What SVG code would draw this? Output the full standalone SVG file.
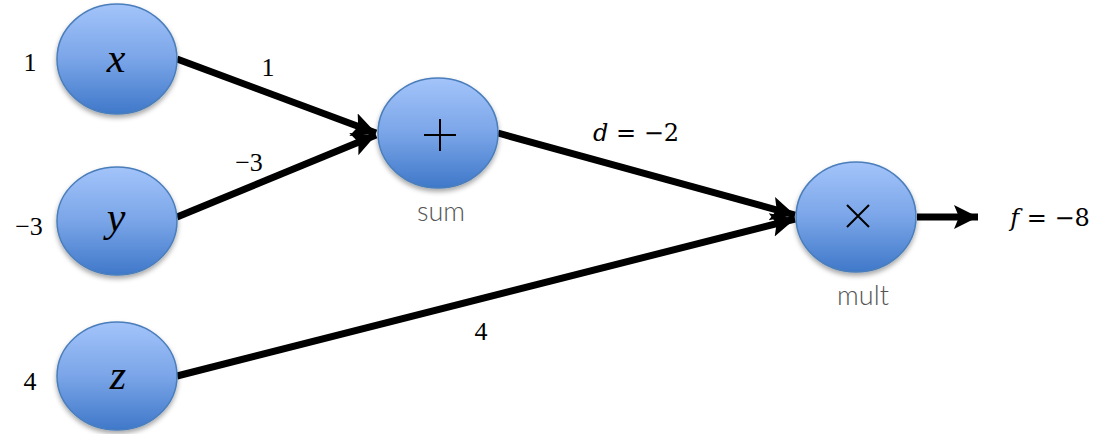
<svg xmlns="http://www.w3.org/2000/svg" width="1102" height="434" viewBox="0 0 1102 434">
<style>
.node{fill:url(#g);stroke:#4a7ebb;stroke-width:1.5;filter:url(#sh)}
.sym{font-family:"Liberation Serif",serif;font-style:italic;font-size:42px;text-anchor:middle;fill:#000}
.lab{font-family:"Liberation Serif",serif;font-size:26px;text-anchor:middle;fill:#000}
.eq{font-family:"DejaVu Serif","Liberation Serif",serif;font-size:24px;text-anchor:middle;fill:#000}
.cap{font-family:"Lato","Open Sans",sans-serif;font-weight:300;font-size:27px;text-anchor:middle;fill:#555}
.edge{stroke:#000;stroke-width:7;fill:none}
.op{stroke:#000;stroke-width:2;fill:none}
</style>
<defs>
<linearGradient id="g" x1="0" y1="0" x2="0" y2="1">
<stop offset="0" stop-color="#a3c4fa"/>
<stop offset="0.5" stop-color="#7aa5e8"/>
<stop offset="1" stop-color="#3f78c9"/>
</linearGradient>
<filter id="sh" x="-20%" y="-20%" width="140%" height="150%">
<feDropShadow dx="0" dy="3" stdDeviation="2.5" flood-color="#000" flood-opacity="0.35"/>
</filter>
<marker id="ah" markerUnits="userSpaceOnUse" markerWidth="26" markerHeight="26" refX="24" refY="12" orient="auto">
<path d="M0,0 L24,12 L0,24 L5,12 Z" fill="#000"/>
</marker>
</defs>
<g id="connectors">
<line class="edge" x1="177" y1="59" x2="376" y2="133" marker-end="url(#ah)"/>
<line class="edge" x1="177" y1="217" x2="376" y2="135" marker-end="url(#ah)"/>
<line class="edge" x1="498" y1="133" x2="795" y2="215" marker-end="url(#ah)"/>
<line class="edge" x1="177" y1="376" x2="795" y2="219" marker-end="url(#ah)"/>
<line class="edge" x1="917" y1="217" x2="978" y2="217" marker-end="url(#ah)"/>
<text class="lab" x="268" y="76">1</text>
<text class="lab" x="249" y="171">−3</text>
<text class="eq" x="636" y="141"><tspan font-style="italic">d</tspan> = −2</text>
<text class="lab" x="481" y="340">4</text>
<text class="eq" x="1050" y="226"><tspan font-style="italic">f</tspan> = −8</text>
</g>
<g id="node-x">
<ellipse class="node" cx="117" cy="59" rx="60" ry="55"/>
<text class="sym" x="116" y="72">x</text>
<text class="lab" x="30" y="71">1</text>
</g>
<g id="node-y">
<ellipse class="node" cx="117" cy="221" rx="60" ry="54"/>
<text class="sym" x="116" y="231">y</text>
<text class="lab" x="29" y="235">−3</text>
</g>
<g id="node-z">
<ellipse class="node" cx="117" cy="376" rx="60" ry="54"/>
<text class="sym" x="118" y="389">z</text>
<text class="lab" x="30" y="390">4</text>
</g>
<g id="node-sum">
<ellipse class="node" cx="438" cy="133" rx="60" ry="55"/>
<path class="op" d="M424,135 H456 M440,119 V151"/>
<text class="cap" x="441" y="221">sum</text>
</g>
<g id="node-mult">
<ellipse class="node" cx="856" cy="217" rx="60" ry="55"/>
<path class="op" d="M847,205 L869,227 M869,205 L847,227"/>
<text class="cap" x="863" y="305">mult</text>
</g>
</svg>
